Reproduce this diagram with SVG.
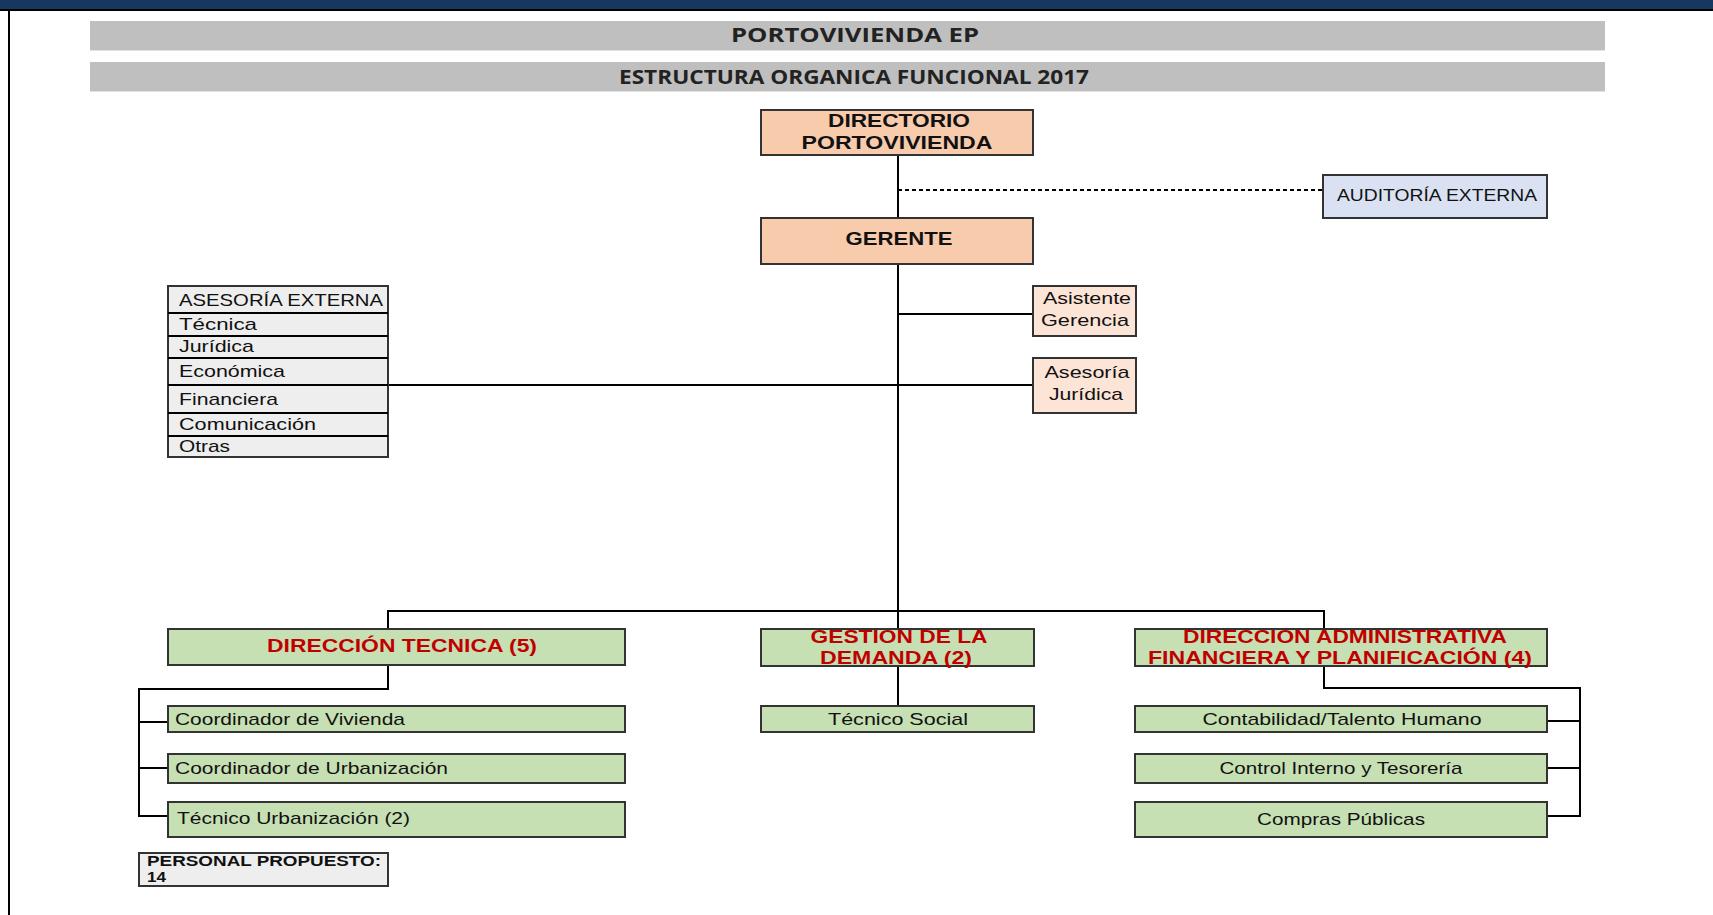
<svg xmlns="http://www.w3.org/2000/svg" width="1713" height="915" viewBox="0 0 1713 915">
<style>
.bx{stroke:#333;stroke-width:2}
.peach{fill:#F8CBAD}
.lpeach{fill:#FCE4D6}
.green{fill:#C6E0B4}
.blue{fill:#D9E1F2}
.gray{fill:#EEEEEE}
.t{font-family:"Liberation Sans",Arial,sans-serif;font-size:17px;fill:#111}
.b{font-family:"Liberation Sans",Arial,sans-serif;font-size:18px;font-weight:bold;fill:#111}
.r{font-family:"Liberation Sans",Arial,sans-serif;font-size:18px;font-weight:bold;fill:#C00000}
.h{font-family:"Open Sans","Liberation Sans",Arial,sans-serif;font-size:19px;font-weight:bold;fill:#222}
.m{text-anchor:middle}
.ln{stroke:#000;stroke-width:2;fill:none}
</style>
<rect width="1713" height="915" fill="#fff"/>
<g id="frame">
<rect x="0" y="0" width="1713" height="9" fill="#17375E"/>
<rect x="0" y="9" width="1713" height="2" fill="#000"/>
<rect x="8" y="9" width="2" height="906" fill="#000"/>
</g>
<g id="titles">
<rect x="90" y="21" width="1515" height="29" fill="#BFBFBF"/>
<rect x="90" y="50" width="1515" height="1" fill="#E2E2E2"/>
<text class="h m" x="855" y="42" textLength="248" lengthAdjust="spacingAndGlyphs">PORTOVIVIENDA EP</text>
<rect x="90" y="62" width="1515" height="29" fill="#BFBFBF"/>
<rect x="90" y="91" width="1515" height="1" fill="#E2E2E2"/>
<text class="h m" x="854" y="84" textLength="470" lengthAdjust="spacingAndGlyphs">ESTRUCTURA ORGANICA FUNCIONAL 2017</text>
</g>
<g id="connectors">
<line class="ln" x1="898" y1="155" x2="898" y2="629"/>
<line x1="898" y1="190" x2="1323" y2="190" stroke="#000" stroke-width="2" stroke-dasharray="4,3"/>
<line class="ln" x1="898" y1="314" x2="1033" y2="314"/>
<line class="ln" x1="388" y1="385" x2="1033" y2="385"/>
<polyline class="ln" points="388,629 388,611 1324,611 1324,629"/>
<polyline class="ln" points="388,666 388,689 139,689 139,816 168,816"/>
<line class="ln" x1="139" y1="722" x2="168" y2="722"/>
<line class="ln" x1="139" y1="768" x2="168" y2="768"/>
<line class="ln" x1="898" y1="666" x2="898" y2="706"/>
<polyline class="ln" points="1324,666 1324,688 1580,688 1580,816 1547,816"/>
<line class="ln" x1="1547" y1="721" x2="1580" y2="721"/>
<line class="ln" x1="1547" y1="768" x2="1580" y2="768"/>
</g>
<g id="directorio">
<rect class="bx peach" x="761" y="110" width="272" height="45"/>
<text class="b m" x="899" y="127" textLength="142" lengthAdjust="spacingAndGlyphs">DIRECTORIO</text>
<text class="b m" x="897" y="149" textLength="191" lengthAdjust="spacingAndGlyphs">PORTOVIVIENDA</text>
</g>
<g id="auditoria">
<rect class="bx blue" x="1323" y="175" width="224" height="43"/>
<text class="t m" x="1437" y="201" textLength="200" lengthAdjust="spacingAndGlyphs">AUDITORÍA EXTERNA</text>
</g>
<g id="gerente">
<rect class="bx peach" x="761" y="218" width="272" height="46"/>
<text class="b m" x="899" y="245" textLength="107" lengthAdjust="spacingAndGlyphs">GERENTE</text>
</g>
<g id="asistente">
<rect class="bx lpeach" x="1033" y="286" width="103" height="50"/>
<text class="t m" x="1087" y="304" textLength="88" lengthAdjust="spacingAndGlyphs">Asistente</text>
<text class="t m" x="1085" y="326" textLength="88" lengthAdjust="spacingAndGlyphs">Gerencia</text>
</g>
<g id="asesoria-juridica">
<rect class="bx lpeach" x="1033" y="358" width="103" height="55"/>
<text class="t m" x="1087" y="378" textLength="85" lengthAdjust="spacingAndGlyphs">Asesoría</text>
<text class="t m" x="1086" y="400" textLength="74" lengthAdjust="spacingAndGlyphs">Jurídica</text>
</g>
<g id="asesoria-externa">
<rect class="bx gray" x="168" y="286" width="220" height="171"/>
<g class="ln" stroke="#333">
<line x1="168" y1="313" x2="388" y2="313"/>
<line x1="168" y1="336" x2="388" y2="336"/>
<line x1="168" y1="358" x2="388" y2="358"/>
<line x1="168" y1="385" x2="388" y2="385"/>
<line x1="168" y1="413" x2="388" y2="413"/>
<line x1="168" y1="436" x2="388" y2="436"/>
</g>
<text class="t" x="179" y="306" textLength="204" lengthAdjust="spacingAndGlyphs">ASESORÍA EXTERNA</text>
<text class="t" x="179" y="330" textLength="78" lengthAdjust="spacingAndGlyphs">Técnica</text>
<text class="t" x="179" y="352" textLength="75" lengthAdjust="spacingAndGlyphs">Jurídica</text>
<text class="t" x="179" y="377" textLength="106" lengthAdjust="spacingAndGlyphs">Económica</text>
<text class="t" x="179" y="405" textLength="99" lengthAdjust="spacingAndGlyphs">Financiera</text>
<text class="t" x="179" y="430" textLength="137" lengthAdjust="spacingAndGlyphs">Comunicación</text>
<text class="t" x="179" y="452" textLength="51" lengthAdjust="spacingAndGlyphs">Otras</text>
</g>
<g id="direccion-tecnica">
<rect class="bx green" x="168" y="629" width="457" height="36"/>
<text class="r m" x="402" y="652" textLength="270" lengthAdjust="spacingAndGlyphs">DIRECCIÓN TECNICA (5)</text>
</g>
<g id="coord-vivienda">
<rect class="bx green" x="168" y="706" width="457" height="26"/>
<text class="t" x="175" y="725" textLength="230" lengthAdjust="spacingAndGlyphs">Coordinador de Vivienda</text>
</g>
<g id="coord-urbanizacion">
<rect class="bx green" x="168" y="754" width="457" height="29"/>
<text class="t" x="175" y="774" textLength="273" lengthAdjust="spacingAndGlyphs">Coordinador de Urbanización</text>
</g>
<g id="tecnico-urbanizacion">
<rect class="bx green" x="168" y="802" width="457" height="35"/>
<text class="t" x="177" y="824" textLength="233" lengthAdjust="spacingAndGlyphs">Técnico Urbanización (2)</text>
</g>
<g id="personal">
<rect class="bx gray" x="139" y="853" width="249" height="33"/>
<text class="b" x="147" y="866" style="font-size:14px" textLength="234" lengthAdjust="spacingAndGlyphs">PERSONAL PROPUESTO:</text>
<text class="b" x="147" y="882" style="font-size:14px" textLength="19" lengthAdjust="spacingAndGlyphs">14</text>
</g>
<g id="gestion-demanda">
<rect class="bx green" x="761" y="629" width="273" height="37"/>
<text class="r m" x="899" y="643" textLength="177" lengthAdjust="spacingAndGlyphs">GESTION DE LA</text>
<text class="r m" x="896" y="664" textLength="152" lengthAdjust="spacingAndGlyphs">DEMANDA (2)</text>
</g>
<g id="tecnico-social">
<rect class="bx green" x="761" y="706" width="273" height="26"/>
<text class="t m" x="898" y="725" textLength="140" lengthAdjust="spacingAndGlyphs">Técnico Social</text>
</g>
<g id="direccion-administrativa">
<rect class="bx green" x="1135" y="629" width="412" height="37"/>
<text class="r m" x="1345" y="643" textLength="324" lengthAdjust="spacingAndGlyphs">DIRECCION ADMINISTRATIVA</text>
<text class="r m" x="1340" y="664" textLength="384" lengthAdjust="spacingAndGlyphs">FINANCIERA Y PLANIFICACIÓN (4)</text>
</g>
<g id="contabilidad">
<rect class="bx green" x="1135" y="706" width="412" height="26"/>
<text class="t m" x="1342" y="725" textLength="279" lengthAdjust="spacingAndGlyphs">Contabilidad/Talento Humano</text>
</g>
<g id="control-interno">
<rect class="bx green" x="1135" y="754" width="412" height="29"/>
<text class="t m" x="1341" y="774" textLength="243" lengthAdjust="spacingAndGlyphs">Control Interno y Tesorería</text>
</g>
<g id="compras">
<rect class="bx green" x="1135" y="802" width="412" height="35"/>
<text class="t m" x="1341" y="825" textLength="168" lengthAdjust="spacingAndGlyphs">Compras Públicas</text>
</g>
</svg>
